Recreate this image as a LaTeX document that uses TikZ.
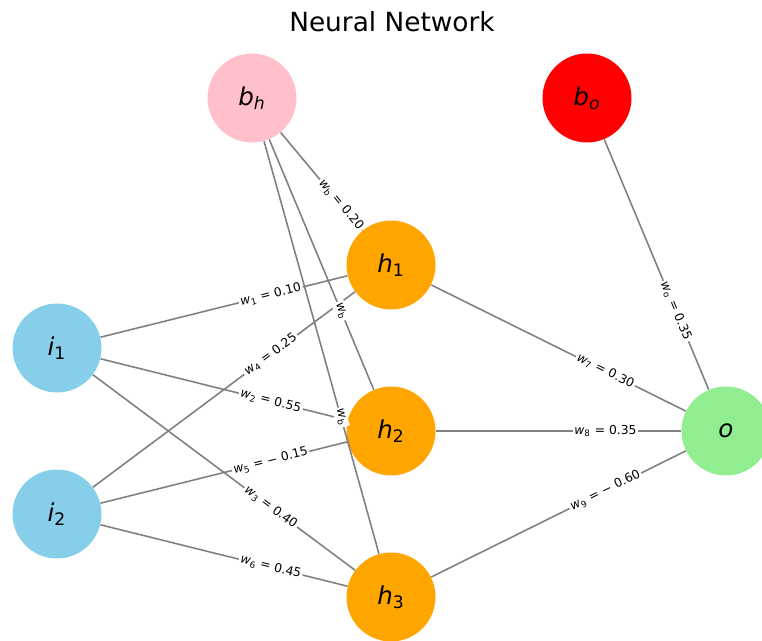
\documentclass[tikz,border=0pt]{standalone}
\usepackage{fontspec}
\setmainfont{DejaVu Sans}
\definecolor{skyblue}{HTML}{87CEEB}
\definecolor{pinkish}{HTML}{FFC0CB}
\definecolor{orangefill}{HTML}{FFA500}
\definecolor{lightgreen}{HTML}{90EE90}
\definecolor{redfill}{HTML}{FF0000}
\newcommand{\wlab}[2]{\textit{w}\textsubscript{#1} = #2}
\newcommand{\nlab}[2]{\textit{#1}\textsubscript{#2}}
\begin{document}
\begin{tikzpicture}[x=0.02cm, y=-0.02cm,
    neuron/.style={circle, minimum size=1.78cm, inner sep=0pt, font=\fontsize{14}{16}\selectfont},
    wire/.style={draw=gray, line width=0.9pt},
    wlabel/.style={fill=white, sloped, pos=0.64, inner sep=1pt, font=\fontsize{7}{8}\selectfont}]
      \useasboundingbox (0,0) rectangle (762,641);
      \clip (0,0) rectangle (762,641);
      \node[font=\fontsize{15}{18}\selectfont] (title) at (392,22) {Neural Network};
      % Bias nodes
      \node[neuron, fill=pinkish] (bh) at (252,98) {\nlab{b}{\textit{h}}};
      \node[neuron, fill=redfill] (bo) at (587,98) {\nlab{b}{\textit{o}}};
      % Input layer
      \foreach \i/\y in {1/348, 2/514} {
        \node[neuron, fill=skyblue] (i\i) at (57,\y) {\nlab{i}{\i}};
      }
      % Hidden layer
      \foreach \i/\y in {1/265, 2/431, 3/597} {
        \node[neuron, fill=orangefill] (h\i) at (391,\y) {\nlab{h}{\i}};
      }
      % Output
      \node[neuron, fill=lightgreen] (o) at (726,431) {\textit{o}};
      % Connections
      \foreach \a/\b in {i1/h1, i1/h2, i1/h3, i2/h1, i2/h2, i2/h3,
                         bh/h1, bh/h2, bh/h3, h1/o, h2/o, h3/o, bo/o} {
        \draw[wire] (\a) -- (\b);
      }
      % Weights
      \foreach \a/\b/\txt in {i1/h1/{\wlab{1}{0.10}}, i1/h2/{\wlab{2}{0.55}},
                              i1/h3/{\wlab{3}{0.40}}, i2/h1/{\wlab{4}{0.25}},
                              i2/h2/{\wlab{5}{− 0.15}}, i2/h3/{\wlab{6}{0.45}},
                              h1/o/{\wlab{7}{0.30}}, h2/o/{\wlab{8}{0.35}},
                              h3/o/{\wlab{9}{− 0.60}}, bh/h1/{\wlab{b}{0.20}},
                              bh/h2/{\textit{w}\textsubscript{b}}, bh/h3/{\textit{w}\textsubscript{b}},
                              bo/o/{\wlab{o}{0.35}}} {
        \path (\a.center) -- node[wlabel] {\txt} (\b.center);
      }
\end{tikzpicture}
\end{document}
